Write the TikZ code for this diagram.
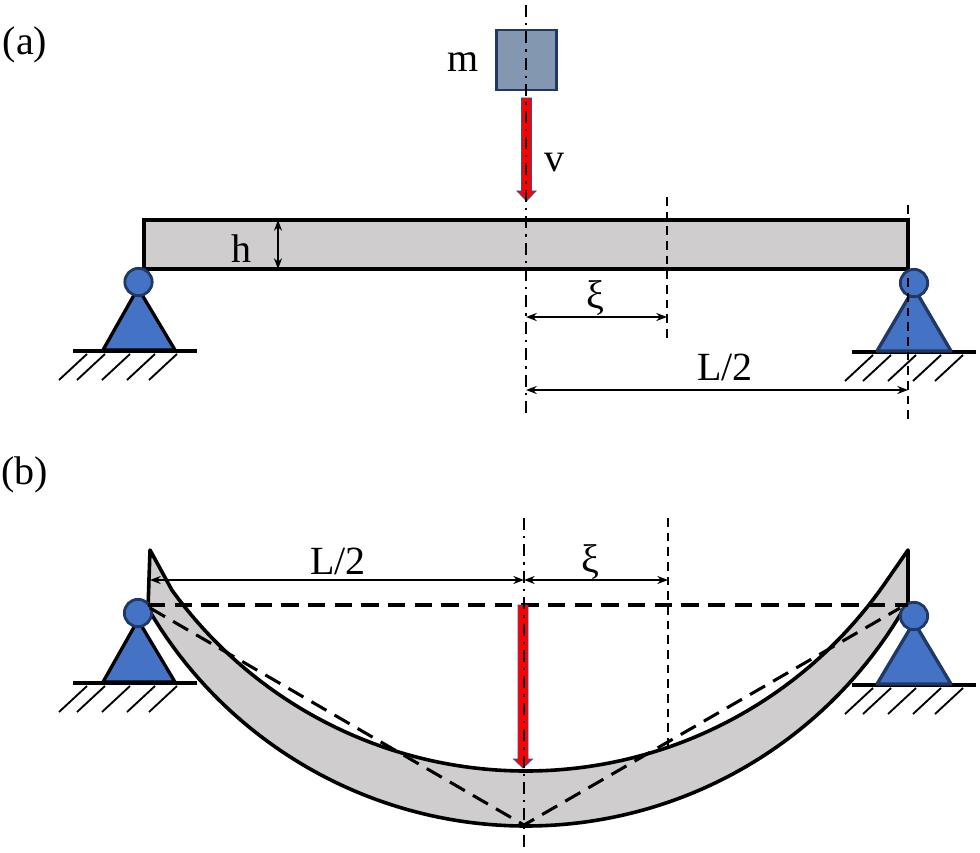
\documentclass[tikz,border=0pt]{standalone}
\usepackage{fontspec}
\setmainfont{Liberation Serif}
\usetikzlibrary{arrows.meta}
\definecolor{beamgray}{HTML}{CFCDCD}
\definecolor{supblue}{HTML}{4472C4}
\definecolor{navy}{HTML}{203864}
\definecolor{massfill}{HTML}{8497B0}
\definecolor{arrowred}{HTML}{FF0000}
\definecolor{arrowedge}{HTML}{2F5597}
\tikzset{
  x=0.75pt,y=-0.75pt,
  beamline/.style={draw=black,line width=2.7pt,fill=beamgray,line join=miter},
  defl/.style={draw=black,line width=2.7pt,fill=beamgray,line join=round},
  tri/.style={draw=black,line width=2.5pt,fill=supblue,line join=round},
  pin/.style={circle,draw=navy,line width=2.1pt,fill=supblue,minimum size=20.5pt,inner sep=0pt},
  groundline/.style={draw=black,line width=2.8pt},
  hatch/.style={draw=black,line width=1.4pt},
  dimarrow/.style={draw=black,line width=1.3pt,{Stealth[length=8pt,width=6pt]}-{Stealth[length=8pt,width=6pt]}},
  axisline/.style={draw=black,line width=1.5pt,dash pattern=on 9pt off 4.5pt on 1.8pt off 4.5pt},
  guideline/.style={draw=black,line width=1.5pt,dash pattern=on 6.5pt off 4.5pt},
  chord/.style={draw=black,line width=2.3pt,dash pattern=on 13pt off 7pt},
  label/.style={font=\fontsize{30}{32}\selectfont,inner sep=0pt},
  redarrow/.style={draw=arrowedge,line width=0.6pt,fill=arrowred,line join=miter},
}
\newcommand{\groundhatch}[3]{%
  \draw[groundline] (#1-65,#2) -- (#1+59,#2);
  \foreach \hx in {-51,-33,-8,17,39}{\draw[hatch] (#3+\hx,#2+3) -- (#3+\hx-28,#2+29);}
}
\begin{document}
\begin{tikzpicture}
\useasboundingbox (0,0) rectangle (980,852);
% ---------- panel (a)
\node[label] (tagA) at (25,45) {(a)};
\draw[beamline] (144,220) rectangle (908,269);
\coordinate (hT) at (278,220); \coordinate (hB) at (278,269);
\draw[dimarrow] (hT) -- (hB);
\node[label] (hLab) at (241,249) {h};
\node[draw=navy,line width=2.2pt,fill=massfill,minimum size=45pt,inner sep=0pt] (mass) at (526.5,60) {};
\node[label] (mLab) at (463,62) {m};
\draw[redarrow] (521.5,98) -- (531.5,98) -- (531.5,191) -- (536,191) -- (526.5,201) -- (517,191) -- (521.5,191) -- cycle;
\node[label] (vLab) at (554,163) {v};
\coordinate (axT) at (526,5); \coordinate (axB) at (526,415);
\draw[axisline] (axT) -- (axB);
\coordinate (xiT) at (667,197); \coordinate (xiB) at (667,338);
\draw[guideline] (xiT) -- (xiB);
\coordinate (xiL) at (526,317); \coordinate (xiR) at (667,317);
\draw[dimarrow] (xiL) -- (xiR);
\node[label] (xiLab) at (595,298) {ξ};
\coordinate (halfL) at (526,390); \coordinate (halfR) at (908,390);
\draw[dimarrow] (halfL) -- (halfR);
\node[label] (halfLab) at (725,367) {L/2};
% left support a
\groundhatch{138}{351}{138}
\draw[tri] (138,288) -- (175,350) -- (103,350) -- cycle;
\node[pin] (pinAL) at (138.5,282) {};
% right support a
\groundhatch{917}{352}{924}
\draw[tri,draw=navy] (914,288) -- (951,351) -- (877,351) -- cycle;
\node[pin] (pinAR) at (914,283) {};
\coordinate (rT) at (908,205); \coordinate (rB) at (908,420);
\begin{scope}
\clip (900,200) rectangle (916,218) (900,272) rectangle (916,425);
\draw[guideline] (rT) -- (rB);
\end{scope}
% ---------- panel (b)
\node[label] (tagB) at (25,475) {(b)};
\groundhatch{138}{683}{138}
\draw[tri] (138,620) -- (175,682) -- (103,682) -- cycle;
\groundhatch{917}{685}{924}
\draw[tri,draw=navy] (914,622) -- (951,684) -- (877,684) -- cycle;
\draw[defl] (150,550)
  -- plot[domain=172:885,samples=120] (\x,{334+437*sqrt(1-((\x-526)/437)*((\x-526)/437))})
  -- (908,550) -- (908,606)
  -- plot[domain=905:148,samples=120] (\x,{389+437*sqrt(1-((\x-526)/437)*((\x-526)/437))})
  -- cycle;
\node[pin] (pinBL) at (138,613) {};
\node[pin] (pinBR) at (914,616) {};
\coordinate (hzL) at (148,605); \coordinate (hzR) at (908,605);
\draw[chord] (hzL) -- (hzR);
\coordinate (apex) at (524,825);
\draw[chord] (150,608) -- (apex) -- (900,608);
\draw[redarrow] (518,605) -- (528,605) -- (528,759) -- (532.5,759) -- (523,768) -- (513.5,759) -- (518,759) -- cycle;
\coordinate (ax2T) at (524,518); \coordinate (ax2B) at (524,850);
\draw[axisline] (ax2T) -- (ax2B);
\coordinate (xi2T) at (668,518); \coordinate (xi2B) at (668,746);
\draw[guideline] (xi2T) -- (xi2B);
\coordinate (dimL) at (150,580); \coordinate (dimM) at (524,580); \coordinate (dimR) at (668,580);
\draw[dimarrow] (dimL) -- (dimM);
\draw[dimarrow] (dimM) -- (dimR);
\node[label] (half2Lab) at (338,561) {L/2};
\node[label] (xi2Lab) at (590,562) {ξ};
\end{tikzpicture}
\end{document}
